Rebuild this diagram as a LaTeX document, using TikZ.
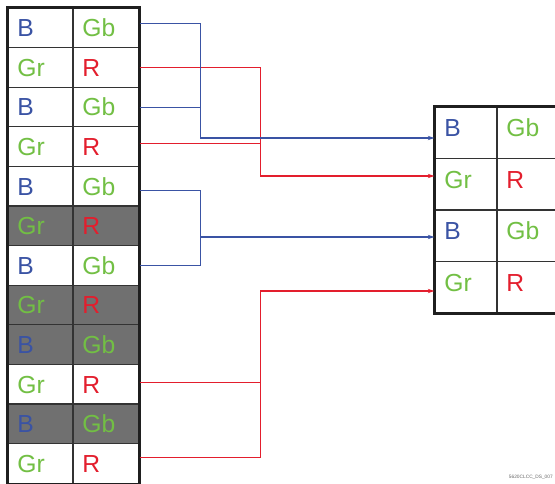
\documentclass[tikz,border=0pt]{standalone}
\usepackage{fontspec}
\setmainfont{Liberation Sans}
\definecolor{pxblue}{RGB}{58,83,164}
\definecolor{pxgreen}{RGB}{114,191,68}
\definecolor{pxred}{RGB}{227,30,45}
\definecolor{pxgray}{RGB}{112,112,112}
\usetikzlibrary{arrows.meta}

\begin{document}
\begin{tikzpicture}[x=0.75pt,y=-0.75pt,
    every node/.style={font=\fontsize{18.5}{22}\selectfont},
    cell/.style={draw=black!80,line width=0.8pt,inner xsep=7pt,inner ysep=0pt,
                 align=left,text height=13.3pt,text depth=0pt},
    lcell/.style={cell,minimum height=29.7pt},
    rcell/.style={cell,minimum height=38.6pt,text depth=7.5pt,text width=32.5pt},
    frame/.style={draw=black!88,line width=1.8pt},
    wire/.style={draw=#1,line width=0.7pt},
    feed/.style={draw=#1,line width=1.1pt,-{Stealth[length=5pt,width=3.2pt]}}]
  \useasboundingbox (0,0) rectangle (555,483);

  % line buffer, 12 rows (shaded rows are skipped)
  \foreach \i/\fl in {1/white,2/white,3/white,4/white,5/white,6/pxgray,
                      7/white,8/pxgray,9/pxgray,10/white,11/pxgray,12/white} {
    \ifodd\i
      \node[lcell,fill=\fl,text width=34.75pt,text=pxblue]
            (la\i) at (40.5,{27.8+39.6*(\i-1)}) {B};
      \node[lcell,fill=\fl,text width=35.5pt,text=pxgreen]
            (lb\i) at (106,{27.8+39.6*(\i-1)}) {Gb};
    \else
      \node[lcell,fill=\fl,text width=34.75pt,text=pxgreen]
            (la\i) at (40.5,{27.8+39.6*(\i-1)}) {Gr};
      \node[lcell,fill=\fl,text width=35.5pt,text=pxred]
            (lb\i) at (106,{27.8+39.6*(\i-1)}) {R};
    \fi
  }
  \draw[frame] (la1.north west) rectangle (lb12.south east);

  % output block, 4 rows
  \foreach \i in {1,...,4} {
    \ifodd\i
      \node[rcell,text=pxblue] (ra\i) at (466,{132.75+51.5*(\i-1)}) {B};
      \node[rcell,text=pxgreen] (rb\i) at (528,{132.75+51.5*(\i-1)}) {Gb};
    \else
      \node[rcell,text=pxgreen] (ra\i) at (466,{132.75+51.5*(\i-1)}) {Gr};
      \node[rcell,text=pxred] (rb\i) at (528,{132.75+51.5*(\i-1)}) {R};
    \fi
  }
  \draw[frame] (ra1.north west) rectangle (rb4.south east);

  % junctions
  \coordinate (bj1) at (200,138);
  \coordinate (rj1) at (260,176);
  \coordinate (bj2) at (200,237);
  \coordinate (rj2) at (260,291);

  % red pairs
  \draw[wire=pxred] (lb2.east) -| (rj1);
  \draw[wire=pxred] ([yshift=2pt]lb4.east) -| (rj1);
  \draw[feed=pxred] (rj1) -- (rj1 -| ra2.west);
  \draw[wire=pxred] ([yshift=1.5pt]lb10.east) -| (rj2);
  \draw[wire=pxred] ([yshift=4.8pt]lb12.east) -| (rj2);
  \draw[feed=pxred] (rj2) -- (rj2 -| ra4.west);

  % blue pairs
  \draw[wire=pxblue] ([yshift=3pt]lb1.east) -| (bj1);
  \draw[wire=pxblue] (lb3.east) -| (bj1);
  \draw[feed=pxblue] (bj1) -- (bj1 -| ra1.west);
  \draw[wire=pxblue] ([yshift=-3.5pt]lb5.east) -| (bj2);
  \draw[wire=pxblue] (lb7.east) -| (bj2);
  \draw[feed=pxblue] (bj2) -- (bj2 -| ra3.west);

  \node[anchor=east,inner sep=0pt,text=black!60,font=\fontsize{3.6}{4}\selectfont]
        (figid) at (553,477) {5620CLCC\_DS\_007};
\end{tikzpicture}
\end{document}
